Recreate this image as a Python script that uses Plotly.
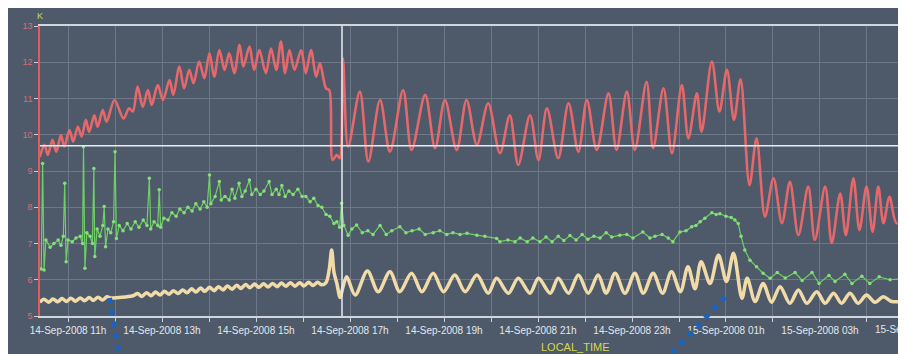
import numpy as np
import pandas as pd
import plotly.graph_objects as go

# ---- data (hours since 14-Sep-2008 00:00, values in K) ----
red_hours = [10.40, 10.50, 10.57, 10.67, 10.75, 10.85, 10.92, 11.03, 11.11, 11.21, 11.29, 11.38, 11.45,
             11.56, 11.63, 11.74, 11.82, 11.99, 12.18, 12.30, 12.38, 12.48, 12.59, 12.70, 12.78, 12.91,
             13.02, 13.16, 13.24, 13.37, 13.47, 13.58, 13.67, 13.79, 13.90, 14.01, 14.11, 14.22, 14.33,
             14.43, 14.54, 14.65, 14.73, 14.86, 14.96, 15.07, 15.21, 15.32, 15.43, 15.53, 15.62, 15.71,
             15.82, 15.96, 16.06, 16.17, 16.28, 16.36, 16.49, 16.56, 16.63, 16.72, 16.78, 16.85, 16.96,
             17.21, 17.39, 17.64, 17.85, 18.13, 18.31, 18.60, 18.81, 19.02, 19.27, 19.48, 19.70, 19.94,
             20.19, 20.40, 20.58, 20.83, 21.01, 21.19, 21.43, 21.65, 21.86, 22.04, 22.25, 22.50, 22.67,
             22.89, 23.06, 23.31, 23.45, 23.67, 23.85, 24.06, 24.20, 24.38, 24.48, 24.70, 24.86, 25.02,
             25.17, 25.31, 25.50, 25.65, 25.83, 26.01, 26.19, 26.36, 26.54, 26.75, 26.89, 27.11, 27.25,
             27.43, 27.55, 27.71, 27.84, 27.99, 28.12, 28.24, 28.35, 28.48, 28.63, 28.83]
red_values = [9.39, 9.72, 9.44, 9.86, 9.53, 9.99, 9.67, 10.13, 9.81, 10.22, 9.95, 10.41, 10.08,
              10.54, 10.22, 10.68, 10.36, 10.96, 10.45, 10.73, 10.64, 11.33, 10.77, 11.23, 10.82, 11.37,
              10.96, 11.51, 11.10, 11.88, 11.28, 11.79, 11.42, 12.02, 11.56, 12.25, 11.60, 12.34, 11.79,
              12.25, 11.70, 12.48, 11.88, 12.43, 11.79, 12.34, 11.70, 12.38, 11.79, 12.57, 11.70, 12.34,
              11.79, 12.34, 11.70, 12.34, 11.60, 11.97, 11.28, 11.23, 9.30, 9.45, 9.35, 12.11, 9.67,
              11.19, 9.26, 10.96, 9.53, 11.23, 9.58, 11.10, 9.63, 10.96, 9.58, 10.96, 9.72, 10.87,
              9.49, 10.54, 9.17, 10.54, 9.30, 10.73, 9.35, 10.87, 9.53, 10.96, 9.58, 11.14, 9.58,
              11.19, 9.58, 11.46, 9.63, 11.28, 9.49, 11.37, 9.90, 11.14, 10.08, 12.02, 10.64, 11.79,
              10.41, 11.53, 8.61, 9.90, 7.74, 8.80, 7.56, 8.70, 7.23, 8.57, 7.10, 8.57, 7.01,
              8.38, 7.23, 8.80, 7.37, 8.57, 7.32, 8.57, 7.56, 8.29, 7.56, 7.65]

green_hours = [10.43, 10.46, 10.49, 10.53, 10.62, 10.70, 10.79, 10.85, 10.90, 10.93, 10.96, 11.00, 11.09,
               11.17, 11.26, 11.31, 11.33, 11.36, 11.40, 11.47, 11.52, 11.55, 11.57, 11.62, 11.68, 11.74,
               11.77, 11.80, 11.85, 11.91, 11.97, 12.00, 12.03, 12.09, 12.17, 12.26, 12.34, 12.43, 12.51,
               12.60, 12.68, 12.73, 12.76, 12.83, 12.91, 12.94, 12.97, 13.04, 13.13, 13.21, 13.30, 13.38,
               13.47, 13.55, 13.64, 13.72, 13.81, 13.89, 13.96, 14.01, 14.04, 14.13, 14.22, 14.26, 14.34,
               14.43, 14.49, 14.55, 14.64, 14.70, 14.77, 14.86, 14.91, 15.00, 15.09, 15.17, 15.28, 15.34,
               15.43, 15.49, 15.55, 15.62, 15.70, 15.79, 15.89, 15.98, 16.06, 16.15, 16.23, 16.32, 16.40,
               16.49, 16.57, 16.66, 16.72, 16.78, 16.82, 16.87, 16.96, 17.04, 17.14, 17.26, 17.38, 17.49,
               17.64, 17.77, 17.89, 18.06, 18.19, 18.32, 18.47, 18.60, 18.77, 18.91, 19.06, 19.19, 19.34,
               19.49, 19.70, 19.87, 20.12, 20.19, 20.36, 20.51, 20.62, 20.77, 20.89, 21.04, 21.17, 21.30,
               21.43, 21.55, 21.68, 21.81, 21.94, 22.06, 22.19, 22.32, 22.45, 22.57, 22.74, 22.89, 23.02,
               23.23, 23.38, 23.49, 23.64, 23.77, 23.87, 24.02, 24.15, 24.27, 24.36, 24.45, 24.55, 24.70,
               24.79, 24.87, 25.00, 25.11, 25.19, 25.26, 25.32, 25.40, 25.51, 25.65, 25.79, 25.94, 26.09,
               26.26, 26.47, 26.62, 26.83, 26.98, 27.19, 27.32, 27.53, 27.68, 27.89, 28.06, 28.26, 28.49,
               28.70, 28.83]
green_values = [6.30, 9.21, 6.27, 7.10, 6.90, 7.00, 7.10, 6.95, 7.20, 8.66, 6.50, 7.10, 7.05,
                7.15, 7.20, 7.00, 9.67, 6.32, 7.30, 7.20, 7.00, 9.07, 6.64, 7.40, 7.20, 7.50,
                8.02, 6.91, 7.40, 7.30, 7.60, 9.53, 7.14, 7.50, 7.35, 7.55, 7.40, 7.60, 7.45,
                7.65, 7.50, 8.80, 7.40, 7.60, 7.50, 8.48, 7.45, 7.70, 7.65, 7.85, 7.75, 7.95,
                7.85, 8.00, 7.90, 8.10, 7.95, 8.15, 8.00, 8.89, 8.10, 8.30, 8.71, 8.20, 8.30,
                8.20, 8.50, 8.25, 8.66, 8.30, 8.45, 8.75, 8.35, 8.50, 8.35, 8.45, 8.71, 8.35,
                8.50, 8.35, 8.60, 8.30, 8.45, 8.35, 8.50, 8.30, 8.30, 8.15, 8.25, 8.05, 8.00,
                7.80, 7.75, 7.55, 7.60, 7.45, 8.11, 7.50, 7.23, 7.40, 7.51, 7.30, 7.35, 7.25,
                7.50, 7.25, 7.35, 7.46, 7.30, 7.35, 7.40, 7.25, 7.30, 7.35, 7.25, 7.30, 7.25,
                7.28, 7.23, 7.20, 7.14, 7.05, 7.10, 7.05, 7.15, 7.05, 7.15, 7.05, 7.18, 7.05,
                7.20, 7.08, 7.22, 7.10, 7.25, 7.12, 7.20, 7.15, 7.30, 7.18, 7.23, 7.25, 7.15,
                7.32, 7.15, 7.20, 7.25, 7.15, 7.05, 7.32, 7.35, 7.46, 7.50, 7.60, 7.70, 7.85,
                7.80, 7.82, 7.75, 7.72, 7.65, 7.55, 7.20, 6.82, 6.54, 6.36, 6.18, 6.04, 6.20,
                6.05, 6.20, 5.98, 6.20, 5.90, 6.12, 5.95, 6.15, 5.90, 6.10, 5.90, 6.08, 6.00,
                6.02, 6.00]

yellow_hours = [10.40, 10.49, 10.59, 10.68, 10.78, 10.87, 10.97, 11.06, 11.16, 11.26, 11.35, 11.45, 11.54,
                11.64, 11.73, 11.83, 11.91, 12.38, 12.48, 12.57, 12.67, 12.77, 12.86, 12.96, 13.05, 13.15,
                13.24, 13.34, 13.44, 13.53, 13.63, 13.72, 13.82, 13.91, 14.01, 14.11, 14.20, 14.30, 14.39,
                14.49, 14.59, 14.68, 14.78, 14.87, 14.97, 15.06, 15.16, 15.26, 15.35, 15.45, 15.54, 15.64,
                15.73, 15.83, 15.93, 16.02, 16.12, 16.21, 16.31, 16.40, 16.49, 16.56, 16.61, 16.66, 16.72,
                16.79, 16.85, 16.93, 17.11, 17.37, 17.60, 17.85, 18.06, 18.31, 18.53, 18.77, 18.99, 19.23,
                19.45, 19.70, 19.94, 20.12, 20.37, 20.58, 20.83, 21.01, 21.26, 21.43, 21.65, 21.86, 22.07,
                22.28, 22.45, 22.64, 22.85, 23.06, 23.24, 23.45, 23.65, 23.84, 24.03, 24.19, 24.34, 24.47,
                24.66, 24.84, 25.01, 25.16, 25.34, 25.45, 25.62, 25.79, 25.97, 26.15, 26.36, 26.54, 26.72,
                26.93, 27.11, 27.29, 27.46, 27.64, 27.81, 27.99, 28.17, 28.35, 28.53, 28.83]
yellow_values = [5.38, 5.46, 5.38, 5.47, 5.39, 5.48, 5.40, 5.49, 5.41, 5.50, 5.42, 5.51, 5.43,
                 5.52, 5.44, 5.53, 5.50, 5.56, 5.62, 5.54, 5.64, 5.56, 5.66, 5.58, 5.68, 5.60,
                 5.70, 5.62, 5.72, 5.64, 5.75, 5.66, 5.77, 5.68, 5.79, 5.70, 5.81, 5.72, 5.83,
                 5.74, 5.85, 5.76, 5.87, 5.78, 5.88, 5.79, 5.89, 5.80, 5.90, 5.81, 5.91, 5.82,
                 5.92, 5.82, 5.92, 5.83, 5.93, 5.84, 5.93, 5.86, 5.92, 6.30, 6.82, 6.20, 5.90,
                 5.51, 5.80, 6.08, 5.58, 6.24, 5.67, 6.22, 5.67, 6.18, 5.67, 6.18, 5.67, 6.13,
                 5.67, 6.13, 5.63, 6.04, 5.63, 6.04, 5.63, 6.04, 5.63, 6.04, 5.63, 6.13, 5.63,
                 6.13, 5.63, 6.18, 5.63, 6.18, 5.63, 6.18, 5.63, 6.22, 5.67, 6.36, 5.75, 6.50,
                 5.90, 6.68, 5.95, 6.73, 5.49, 6.04, 5.40, 5.90, 5.38, 5.81, 5.35, 5.72, 5.35,
                 5.67, 5.35, 5.63, 5.35, 5.63, 5.35, 5.58, 5.38, 5.53, 5.40, 5.42]

y_ticks = [5, 6, 7, 8, 9, 10, 11, 12, 13]
cursor_hour = 16.83
cursor_value = 9.70
edge_tick_label = "15-Sep-2008 05h"

base = pd.Timestamp("2008-09-14")


def to_time(hours):
    return base + pd.to_timedelta(np.asarray(hours), unit="h")


BG = "#4e5a6a"
GRID = "#6c7787"
TICKTXT = "#e3e7ec"

fig = go.Figure()
fig.add_trace(go.Scatter(x=to_time(yellow_hours), y=yellow_values, mode="lines",
                         line=dict(color="#f1dba9", width=3.5, shape="spline", smoothing=0.9),
                         hoverinfo="skip"))
fig.add_trace(go.Scatter(x=to_time(green_hours), y=green_values, mode="lines+markers",
                         line=dict(color="#6fcf66", width=1.2),
                         marker=dict(color="#86e07a", size=3.5), hoverinfo="skip"))
fig.add_trace(go.Scatter(x=to_time(red_hours), y=red_values, mode="lines",
                         line=dict(color="#e6686a", width=2.6, shape="spline", smoothing=0.9),
                         hoverinfo="skip"))

x_start = base + pd.Timedelta(hours=10.404)
x_end = base + pd.Timedelta(hours=28.83)
cursor_time = to_time([cursor_hour])[0]

fig.update_layout(
    width=898, height=354,
    margin=dict(l=32, r=0, t=18, b=46),
    paper_bgcolor=BG,
    plot_bgcolor=BG,
    showlegend=False,
    font=dict(family="Liberation Sans, Arial, sans-serif"),
    xaxis=dict(
        type="date", range=[x_start, x_end],
        tick0="2008-09-14 11:00", dtick=7200000, tickformat="%d-%b-%Y %Hh",
        ticks="outside", ticklen=4, tickcolor="#c9d0d8",
        tickfont=dict(color=TICKTXT, size=10),
        showgrid=True, gridcolor=GRID, gridwidth=1,
        minor=dict(dtick=3600000, showgrid=True, gridcolor=GRID, ticks="outside",
                   ticklen=4, tickcolor="#c9d0d8"),
        showline=True, linecolor="#cfd6de", linewidth=2, mirror=True,
        zeroline=False,
    ),
    yaxis=dict(
        range=[5, 13], tickvals=y_ticks,
        ticks="outside", ticklen=4, tickcolor="#c9d0d8",
        tickfont=dict(color="#d86c78", size=9),
        showgrid=True, gridcolor=GRID, gridwidth=1,
        showline=True, linecolor="#e05a5e", linewidth=1.5,
        zeroline=False,
    ),
    shapes=[
        dict(type="line", xref="x", yref="paper", x0=cursor_time, x1=cursor_time,
             y0=0, y1=1, line=dict(color="#e8ecf1", width=1.5)),
        dict(type="line", xref="paper", yref="y", x0=0, x1=1, y0=cursor_value, y1=cursor_value,
             line=dict(color="#e8ecf1", width=1.5)),
        dict(type="line", xref="paper", yref="paper", x0=0.0803, y0=0.062, x1=0.0918, y1=-0.14,
             line=dict(color="#1663c4", width=5, dash="5px,7px")),
        dict(type="line", xref="paper", yref="paper", x0=0.791, y0=0.065, x1=0.724, y1=-0.145,
             line=dict(color="#1663c4", width=5, dash="5px,7px")),
    ],
    annotations=[
        dict(text="K", xref="paper", yref="paper", x=0, y=1.0345, xanchor="center", yanchor="middle",
             showarrow=False, font=dict(color="#c8d86a", size=9)),
        dict(text="LOCAL_TIME", xref="paper", yref="paper", x=0.6178, y=-0.107, xanchor="center",
             yanchor="middle", showarrow=False, font=dict(color="#d8d84a", size=11)),
        dict(text=edge_tick_label, xref="paper", yref="paper", x=1.0092, y=-0.048, xanchor="center",
             yanchor="middle", showarrow=False, font=dict(color=TICKTXT, size=10)),
    ],
)

fig.write_html("out.html")
